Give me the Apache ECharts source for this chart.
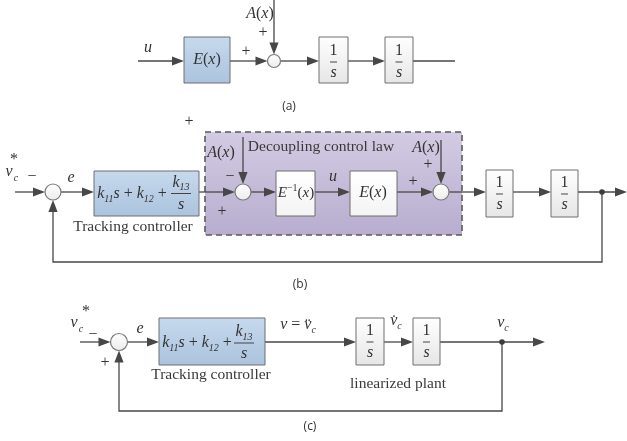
<!DOCTYPE html>
<html><head><meta charset="utf-8">
<script src="https://cdn.jsdelivr.net/npm/echarts@6/dist/echarts.min.js"></script>
<style>html,body{margin:0;padding:0;background:#fff}#c{width:627px;height:441px}</style>
</head><body><div id="c"></div><script>
// ---- diagram data (diagram coordinates, px in a 627x441 frame) ----
const blocks = [
  [184,37,230,83],[319,37,348,83],[385,37,413,83],
  [94,171,199,216],[276,171,315,216],[350,171,397,216],[486,170,513,217],[551,170,578,217],
  [159,318,265,365],[356,318,384,365],[413,318,440,365]
];
const blockKinds = ['blue','gray','gray','blue','white','white','gray','gray','blue','gray','gray'];
const regions = [[205,132,462,235]];
const sums = [[274,61,6.5],[53,192,8],[243,192,8],[441,192,8],[119,342,8.5]];
const dots = [[602,192],[502,342]];
const wires = [
  [[138,61],[184,61]],[[230,61],[267.5,61]],[[274,0],[274,54.5]],[[280.5,61],[319,61]],
  [[348,61],[385,61]],[[413,61],[455,61]],
  [[15,192],[45,192]],[[61,192],[94,192]],[[199,192],[235,192]],[[243,137],[243,184]],
  [[251,192],[276,192]],[[315,192],[350,192]],[[397,192],[433,192]],[[441,140],[441,184]],
  [[449,192],[486,192]],[[513,192],[551,192]],[[578,192],[627,192]],
  [[602,192],[602,262],[53,262],[53,200]],
  [[80,342],[110.5,342]],[[127.5,342],[159,342]],[[265,342],[356,342]],[[384,342],[413,342]],
  [[440,342],[545,342]],[[502,342],[502,411],[119,411],[119,350.5]]
];
const wireArrows = [1,1,1,1,1,0, 1,1,1,1,1,1,1,1,1,1,1,1, 1,1,1,1,1,1];
const labels = [
  [148,48,'{i|u}'],[260,14,'{i|A}{n|(}{i|x}{n|)}'],[263,33,'{n|+}'],[246,52,'{n|+}'],
  [207,60,'{i|E}{n|(}{i|x}{n|)}'],
  [189,122,'{n|+}'],[9,172,'{i|v}'],[16,178,'{s|c}'],[14,160,'{n|*}'],[32,177,'{n|−}'],
  [71,178,'{i|e}'],[132,194,'{i|k}{sub|11}{i|s}{n| + }{i|k}{sub|12}{n| +}'],
  [133,227,'{t|Tracking controller}'],[221,153,'{i|A}{n|(}{i|x}{n|)}'],[230,177,'{n|−}'],
  [222,212,'{n|+}'],[321,147,'{t|Decoupling control law}'],
  [296,193,'{ie|E}{sup|−1}{ne|(}{ie|x}{ne|)}'],[333,177,'{i|u}'],[373,193,'{i|E}{n|(}{i|x}{n|)}'],
  [413,182,'{n|+}'],[426,148,'{i|A}{n|(}{i|x}{n|)}'],[428,165,'{n|+}'],
  [74,323,'{i|v}'],[81,329,'{s|c}'],[86,312,'{n|*}'],[93,335,'{n|−}'],
  [140,329,'{i|e}'],[105,363,'{n|+}'],[197,343,'{i|k}{sub|11}{i|s}{n| + }{i|k}{sub|12}{n| +}'],
  [211,375,'{t|Tracking controller}'],[298,325,'{i|v}{n| = }{i|v\u0308}{sub|c}'],
  [396,321,'{i|v\u0307}{sub|c}'],[503,323,'{i|v}{sub|c}'],[398,384,'{t|linearized plant}']
];
const captions = [[289,107,'(a)'],[300,285,'(b)'],[310,427,'(c)']];
const fracs = [
  [333.5,62,'{n|1}','{i|s}',3.5],[399,62,'{n|1}','{i|s}',3.5],
  [181,193.5,'{i|k}{sub|13}','{i|s}',10],
  [499.5,194,'{n|1}','{i|s}',3.5],[564.5,194,'{n|1}','{i|s}',3.5],
  [244,343,'{i|k}{sub|13}','{i|s}',10],
  [370,342,'{n|1}','{i|s}',3.5],[426.5,342,'{n|1}','{i|s}',3.5]
];

// ---- styles ----
const LINE = '#474747';
const SERIF = 'Liberation Serif';
const TXT = '#333';
const rich = {
  i:{fontFamily:SERIF,fontStyle:'italic',fontSize:16,fill:TXT,lineHeight:20},
  n:{fontFamily:SERIF,fontSize:16,fill:TXT,lineHeight:20},
  ie:{fontFamily:SERIF,fontStyle:'italic',fontSize:15,fill:TXT,lineHeight:20},
  ne:{fontFamily:SERIF,fontSize:15,fill:TXT,lineHeight:20},
  s:{fontFamily:SERIF,fontStyle:'italic',fontSize:10,fill:TXT},
  sub:{fontFamily:SERIF,fontStyle:'italic',fontSize:10,fill:TXT,verticalAlign:'bottom',lineHeight:10},
  sup:{fontFamily:SERIF,fontSize:10,fill:TXT,verticalAlign:'top',lineHeight:10},
  t:{fontFamily:SERIF,fontSize:15.5,fill:'#3a3a3a'}
};
function grad(a,b){return {type:'linear',x:0,y:0,x2:0,y2:1,colorStops:[{offset:0,color:a},{offset:1,color:b}]};}
const fills = {
  blue: grad('#c6d9ee','#abc3dd'),
  gray: grad('#ffffff','#e6e6e6'),
  white: grad('#ffffff','#f4f4f4')
};

const chart = echarts.init(document.getElementById('c'), null, {renderer:'canvas'});
function rectFrom(api, b){
  const p1 = api.coord([b[0],b[1]]), p2 = api.coord([b[2],b[3]]);
  return {x:Math.min(p1[0],p2[0]),y:Math.min(p1[1],p2[1]),width:Math.abs(p2[0]-p1[0]),height:Math.abs(p2[1]-p1[1])};
}
const base = {type:'custom',coordinateSystem:'cartesian2d',encode:{x:0,y:1},silent:true,animation:false,clip:false};

chart.setOption({
  animation:false,
  grid:{left:0,right:0,top:0,bottom:0},
  xAxis:{type:'value',min:0,max:627,show:false},
  yAxis:{type:'value',min:0,max:441,inverse:true,show:false},
  series:[
    Object.assign({},base,{z:1,data:regions.map(r=>[r[0],r[1]]),renderItem:(p,api)=>({
      type:'rect',shape:rectFrom(api,regions[p.dataIndex]),
      style:{fill:grad('#d3cbe3','#b8adcf'),stroke:'#5a5a5a',lineWidth:1.6,lineDash:[6,4]}})}),
    Object.assign({},base,{z:2,data:wires.map(w=>w[0]),renderItem:(p,api)=>{
      const pts = wires[p.dataIndex].map(q=>api.coord(q));
      const children = [];
      if (wireArrows[p.dataIndex]) {
        const n = pts.length, tip = pts[n-1], prev = pts[n-2];
        const dx = tip[0]-prev[0], dy = tip[1]-prev[1], len = Math.hypot(dx,dy);
        const ux = dx/len, uy = dy/len, L = 12, W = 4.6;
        const bx = tip[0]-ux*L, by = tip[1]-uy*L;
        const line = pts.slice(0,n-1).concat([[bx+ux*2,by+uy*2]]);
        children.push({type:'polyline',shape:{points:line},style:{stroke:LINE,lineWidth:1.3,fill:null}});
        children.push({type:'polygon',shape:{points:[tip,[bx-uy*W,by+ux*W],[bx+uy*W,by-ux*W]]},style:{fill:LINE}});
      } else {
        children.push({type:'polyline',shape:{points:pts},style:{stroke:LINE,lineWidth:1.3,fill:null}});
      }
      return {type:'group',children};
    }}),
    Object.assign({},base,{z:3,data:blocks.map(b=>[b[0],b[1]]),renderItem:(p,api)=>({
      type:'rect',shape:rectFrom(api,blocks[p.dataIndex]),
      style:{fill:fills[blockKinds[p.dataIndex]],stroke:'#6e6e6e',lineWidth:1}})}),
    Object.assign({},base,{z:3,data:sums.map(s=>[s[0],s[1]]),renderItem:(p,api)=>{
      const s = sums[p.dataIndex], c = api.coord([s[0],s[1]]);
      const r = Math.abs(api.coord([s[0]+s[2],s[1]])[0]-c[0]);
      return {type:'circle',shape:{cx:c[0],cy:c[1],r},style:{fill:grad('#ffffff','#ececec'),stroke:'#7a7a7a',lineWidth:1.2}};
    }}),
    Object.assign({},base,{z:4,data:dots,renderItem:(p,api)=>{
      const c = api.coord(dots[p.dataIndex]);
      return {type:'circle',shape:{cx:c[0],cy:c[1],r:2.8},style:{fill:'#3c3c3c'}};
    }}),
    Object.assign({},base,{z:5,data:fracs.map(f=>[f[0],f[1]]),renderItem:(p,api)=>{
      const f = fracs[p.dataIndex], c = api.coord([f[0],f[1]]);
      return {type:'group',children:[
        {type:'text',style:{text:f[2],rich,x:c[0],y:c[1]-11,align:'center',verticalAlign:'middle'}},
        {type:'line',shape:{x1:c[0]-f[4],y1:c[1],x2:c[0]+f[4],y2:c[1]},style:{stroke:'#444',lineWidth:1}},
        {type:'text',style:{text:f[3],rich,x:c[0],y:c[1]+11,align:'center',verticalAlign:'middle'}}
      ]};
    }}),
    Object.assign({},base,{z:5,data:labels.map(l=>[l[0],l[1]]),renderItem:(p,api)=>{
      const l = labels[p.dataIndex], c = api.coord([l[0],l[1]]);
      return {type:'text',style:{text:l[2],rich,x:c[0],y:c[1],align:'center',verticalAlign:'middle'}};
    }}),
    Object.assign({},base,{z:5,data:captions.map(l=>[l[0],l[1]]),renderItem:(p,api)=>{
      const l = captions[p.dataIndex], c = api.coord([l[0],l[1]]);
      return {type:'text',style:{text:l[2],x:c[0],y:c[1],align:'center',verticalAlign:'middle',fontFamily:'Open Sans',fontSize:12,fill:'#333'}};
    }})
  ]
});
</script></body></html>
